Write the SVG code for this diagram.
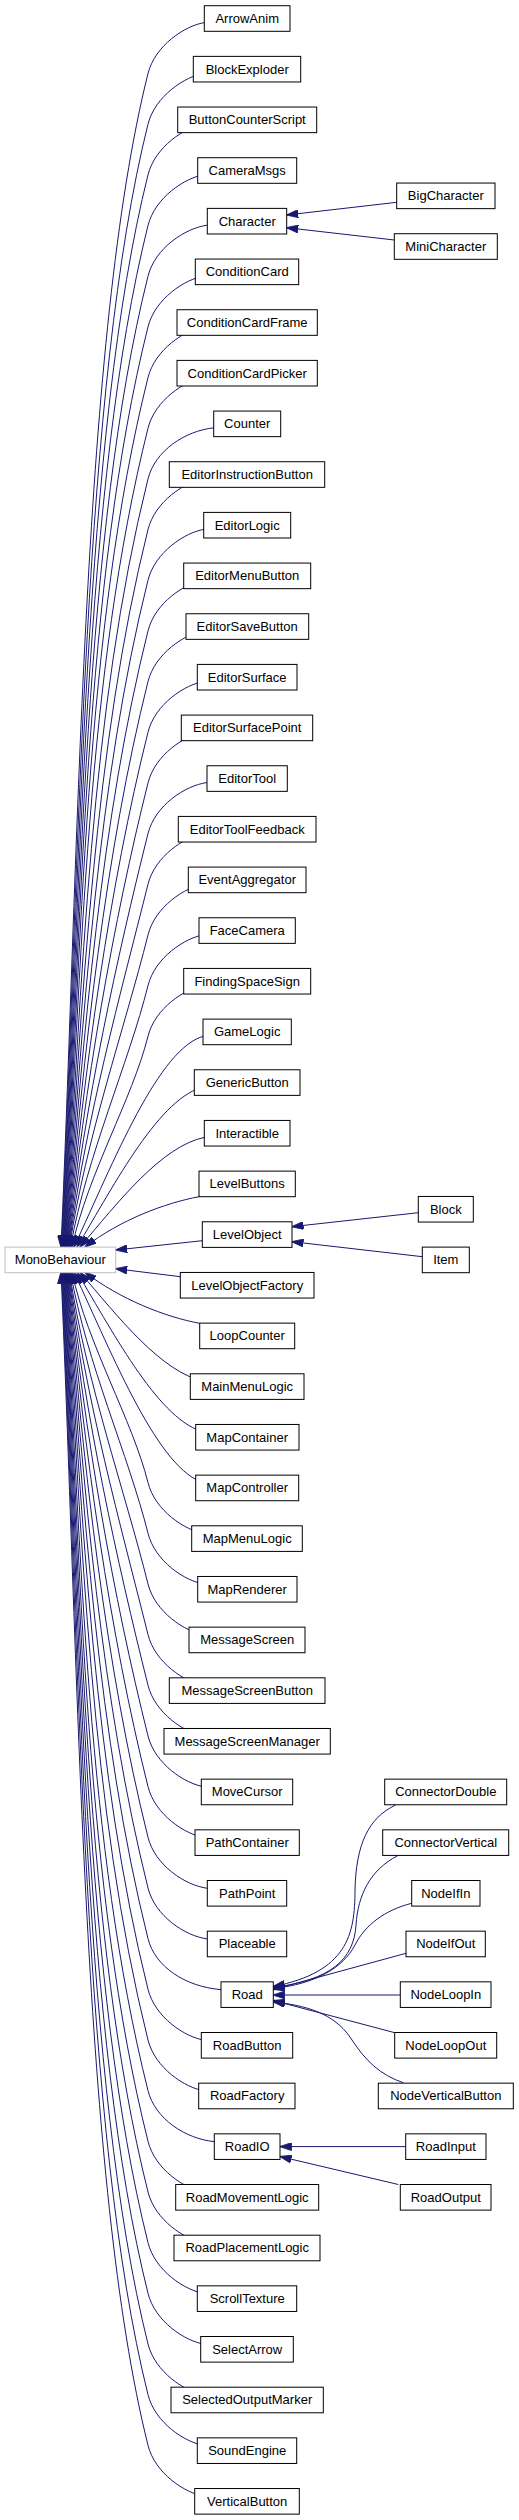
<svg xmlns="http://www.w3.org/2000/svg" width="519" height="2520" viewBox="0 0 519 2520">
<style>
.n rect{fill:#fff;stroke:#000;stroke-width:1}
.root rect{fill:#fff;stroke:#bfbfbf;stroke-width:1}
text{font-family:"Liberation Sans",Arial,sans-serif;font-size:13px;fill:#000;text-anchor:middle}
.e path{fill:none;stroke:#191970;stroke-width:1;marker-end:url(#ah)}
</style>
<defs>
<marker id="ah" viewBox="0 0 12 8" refX="11.5" refY="4" markerWidth="12" markerHeight="8" markerUnits="userSpaceOnUse" orient="auto">
<path d="M0,0 L12,4 L0,8 z" fill="#191970" stroke="#191970" stroke-width="0.8"/>
</marker>
</defs>
<rect width="519" height="2520" fill="#fff"/>
<g id="connectors" class="e">
<path d="M205,22.5 C185,25.5 155,45.5 148,73.5 C82.75,334.5 79.3,836.3 61,1247"/>
<path d="M205,73.17 C185,76.17 155,96.17 148,124.17 C83.1,383.7 79.7,854 61.5,1247"/>
<path d="M205,123.84 C185,126.84 155,146.84 148,174.84 C83.5,432.8 80.1,871.7 62,1247"/>
<path d="M205,174.51 C185,177.51 155,197.51 148,225.51 C83.9,482 80.5,889.5 62.5,1247"/>
<path d="M207.3,225.18 C185,228.18 155,248.18 148,276.18 C84.25,531.2 80.9,907.2 63,1247"/>
<path d="M205,275.85 C185,278.85 155,298.85 148,326.85 C84.6,580.35 81.2,925 63.5,1247"/>
<path d="M205,326.52 C185,329.52 155,349.52 148,377.52 C85,629.5 81.6,942.7 64,1247"/>
<path d="M205,377.19 C185,380.19 155,400.19 148,428.19 C86.6,673.8 82,960.4 64.5,1247"/>
<path d="M213.7,427.86 C185,430.86 155,450.86 148,478.86 C90.4,709.3 82.4,978.2 65,1247"/>
<path d="M205,478.53 C185,481.53 155,501.53 148,529.53 C94.2,744.7 82.8,995.9 65.5,1247"/>
<path d="M205,529.2 C185,532.2 155,552.2 148,580.2 C98,780.2 83.2,1013.6 66,1247"/>
<path d="M205,579.87 C185,582.87 155,602.87 148,630.87 C101.8,815.7 83.6,1031.4 66.5,1247"/>
<path d="M205,630.54 C185,633.54 155,653.54 148,681.54 C105.6,851.1 84,1049.1 67,1247"/>
<path d="M205,681.21 C185,684.21 155,704.21 148,732.21 C109.4,886.6 84.4,1066.8 67.5,1247"/>
<path d="M205,731.88 C185,734.88 155,754.88 148,782.88 C113.2,922.1 84.8,1084.6 68,1247"/>
<path d="M207,782.55 C185,785.55 155,805.55 148,833.55 C117,957.6 85.2,1102.3 68.5,1247"/>
<path d="M205,833.22 C185,836.22 155,856.22 148,884.22 C120.8,993 85.6,1120 69,1247"/>
<path d="M205,883.89 C185,886.89 155,906.89 148,934.89 C124.6,1028.5 86,1137.8 69.5,1247"/>
<path d="M205,934.56 C185,937.56 155,957.56 148,985.56 C128.4,1064 86.8,1155.5 70.5,1247"/>
<path d="M205,985.23 C185,988.23 155,1008.23 148,1036.23 C132.2,1099.4 88,1173.2 72,1247"/>
<path d="M205,1035.9 C159.2,1046 113.3,1162.6 74,1247"/>
<path d="M205,1086.57 C160.2,1096 115.4,1182.8 77,1247"/>
<path d="M205,1137.24 C161.25,1146 117.5,1203.1 80,1247"/>
<path d="M199,1196.7 C165,1203 120,1220 85,1247"/>
<path d="M202.3,1240.7 L115.7,1250"/>
<path d="M180.3,1276.7 L115.7,1268.7"/>
<path d="M199.7,1323.3 C165,1317 120,1299 85,1272.3"/>
<path d="M205,1381.59 C161.25,1372.85 117.5,1316 80,1272.3"/>
<path d="M205,1432.26 C160.2,1422 115.4,1336.3 77,1272.3"/>
<path d="M205,1482.93 C159.15,1472 113.3,1356.6 74,1272.3"/>
<path d="M205,1533.6 C185,1530.6 155,1510.6 148,1482.6 C132.2,1419.5 88,1345.9 72,1272.3"/>
<path d="M205,1584.27 C185,1581.27 155,1561.27 148,1533.27 C128.4,1455 86.8,1363.6 70.5,1272.3"/>
<path d="M205,1634.94 C185,1631.94 155,1611.94 148,1583.94 C124.6,1490.4 86,1381.4 69.5,1272.3"/>
<path d="M205,1685.61 C185,1682.61 155,1662.61 148,1634.61 C120.8,1525.9 85.6,1399.1 69,1272.3"/>
<path d="M205,1736.28 C185,1733.28 155,1713.28 148,1685.28 C117,1561.4 85.2,1416.8 68.5,1272.3"/>
<path d="M205,1786.95 C185,1783.95 155,1763.95 148,1735.95 C113.2,1596.85 84.8,1434.6 68,1272.3"/>
<path d="M205,1837.62 C185,1834.62 155,1814.62 148,1786.62 C109.4,1632.3 84.4,1452.3 67.5,1272.3"/>
<path d="M207.3,1888.29 C185,1885.29 155,1865.29 148,1837.29 C105.6,1667.8 84,1470 67,1272.3"/>
<path d="M207.3,1938.96 C185,1935.96 155,1915.96 148,1887.96 C101.8,1703.3 83.6,1487.8 66.5,1272.3"/>
<path d="M221,1989.63 C185,1986.63 155,1966.63 148,1938.63 C98,1738.7 83.2,1505.5 66,1272.3"/>
<path d="M205,2040.3 C185,2037.3 155,2017.3 148,1989.3 C94.2,1774.2 82.8,1523.3 65.5,1272.3"/>
<path d="M205,2090.97 C185,2087.97 155,2067.97 148,2039.97 C90.4,1809.7 82.4,1541 65,1272.3"/>
<path d="M214.3,2141.64 C185,2138.64 155,2118.64 148,2090.64 C86.6,1845.1 82,1558.7 64.5,1272.3"/>
<path d="M205,2192.31 C185,2189.31 155,2169.31 148,2141.31 C85,1889.3 81.6,1576.5 64,1272.3"/>
<path d="M205,2242.98 C185,2239.98 155,2219.98 148,2191.98 C84.6,1938.5 81.2,1594.2 63.5,1272.3"/>
<path d="M205,2293.65 C185,2290.65 155,2270.65 148,2242.65 C84.25,1987.65 80.9,1611.9 63,1272.3"/>
<path d="M205,2344.32 C185,2341.32 155,2321.32 148,2293.32 C83.9,2036.8 80.5,1629.65 62.5,1272.3"/>
<path d="M205,2394.99 C185,2391.99 155,2371.99 148,2343.99 C83.5,2086 80.1,1647.4 62,1272.3"/>
<path d="M205,2445.66 C185,2442.66 155,2422.66 148,2394.66 C83.1,2135.2 79.7,1665.1 61.5,1272.3"/>
<path d="M205,2496.33 C185,2493.33 155,2473.33 148,2445.33 C82.75,2184.3 79.3,1682.9 61,1272.3"/>
<path d="M396.7,202.3 L286.7,215"/>
<path d="M394.3,240 L286.7,227.7"/>
<path d="M418.3,1212.7 L292,1226.7"/>
<path d="M422.3,1256.7 L292,1241.7"/>
<path d="M395.7,1805 C368,1818 356,1845 355,1890 C355,1935 347,1972 273.3,1986.5"/>
<path d="M397.7,1855.7 C370,1870 358,1895 356,1925 C354,1960 330,1980 273.3,1987.5"/>
<path d="M411.7,1903.3 C385,1910 365,1925 355,1945 C343,1968 315,1984 273.3,1988.5"/>
<path d="M406,1953.3 L273.3,1989.5"/>
<path d="M400.3,1995 L273.3,1995"/>
<path d="M394.7,2032.7 L273.3,2000.5"/>
<path d="M403.3,2082.7 C380,2075 365,2060 352,2040 C338,2018 315,2006 273.3,2002"/>
<path d="M405.7,2146.6 L280,2146.6"/>
<path d="M398.3,2184.5 L280,2156.5"/>
</g>
<g id="MonoBehaviour" class="root"><rect x="5" y="1247.1" width="110.7" height="25.6"/><text x="60.35" y="1264.4">MonoBehaviour</text></g>
<g id="ArrowAnim" class="n"><rect x="204.3" y="5.7" width="85.7" height="25.6"/><text x="247.2" y="23">ArrowAnim</text></g>
<g id="BlockExploder" class="n"><rect x="193.3" y="56.37" width="107.4" height="25.6"/><text x="247.2" y="73.67">BlockExploder</text></g>
<g id="ButtonCounterScript" class="n"><rect x="177.7" y="107.04" width="139" height="25.6"/><text x="247.2" y="124.34">ButtonCounterScript</text></g>
<g id="CameraMsgs" class="n"><rect x="197.7" y="157.71" width="99" height="25.6"/><text x="247.2" y="175.01">CameraMsgs</text></g>
<g id="Character" class="n"><rect x="207.3" y="208.38" width="79.4" height="25.6"/><text x="247.2" y="225.68">Character</text></g>
<g id="ConditionCard" class="n"><rect x="195.3" y="259.05" width="103.4" height="25.6"/><text x="247.2" y="276.35">ConditionCard</text></g>
<g id="ConditionCardFrame" class="n"><rect x="177" y="309.72" width="140.3" height="25.6"/><text x="247.2" y="327.02">ConditionCardFrame</text></g>
<g id="ConditionCardPicker" class="n"><rect x="177" y="360.39" width="140.3" height="25.6"/><text x="247.2" y="377.69">ConditionCardPicker</text></g>
<g id="Counter" class="n"><rect x="213.7" y="411.06" width="67" height="25.6"/><text x="247.2" y="428.36">Counter</text></g>
<g id="EditorInstructionButton" class="n"><rect x="169.3" y="461.73" width="155.4" height="25.6"/><text x="247.2" y="479.03">EditorInstructionButton</text></g>
<g id="EditorLogic" class="n"><rect x="203.7" y="512.4" width="87" height="25.6"/><text x="247.2" y="529.7">EditorLogic</text></g>
<g id="EditorMenuButton" class="n"><rect x="183.7" y="563.07" width="127" height="25.6"/><text x="247.2" y="580.37">EditorMenuButton</text></g>
<g id="EditorSaveButton" class="n"><rect x="186" y="613.74" width="122.7" height="25.6"/><text x="247.2" y="631.04">EditorSaveButton</text></g>
<g id="EditorSurface" class="n"><rect x="197.3" y="664.41" width="99.7" height="25.6"/><text x="247.2" y="681.71">EditorSurface</text></g>
<g id="EditorSurfacePoint" class="n"><rect x="181.3" y="715.08" width="131.4" height="25.6"/><text x="247.2" y="732.38">EditorSurfacePoint</text></g>
<g id="EditorTool" class="n"><rect x="207" y="765.75" width="80.3" height="25.6"/><text x="247.2" y="783.05">EditorTool</text></g>
<g id="EditorToolFeedback" class="n"><rect x="178.3" y="816.42" width="137.7" height="25.6"/><text x="247.2" y="833.72">EditorToolFeedback</text></g>
<g id="EventAggregator" class="n"><rect x="188.3" y="867.09" width="117.7" height="25.6"/><text x="247.2" y="884.39">EventAggregator</text></g>
<g id="FaceCamera" class="n"><rect x="199" y="917.76" width="96.3" height="25.6"/><text x="247.2" y="935.06">FaceCamera</text></g>
<g id="FindingSpaceSign" class="n"><rect x="183.7" y="968.43" width="127" height="25.6"/><text x="247.2" y="985.73">FindingSpaceSign</text></g>
<g id="GameLogic" class="n"><rect x="203" y="1019.1" width="88.3" height="25.6"/><text x="247.2" y="1036.4">GameLogic</text></g>
<g id="GenericButton" class="n"><rect x="194.3" y="1069.77" width="105.7" height="25.6"/><text x="247.2" y="1087.07">GenericButton</text></g>
<g id="Interactible" class="n"><rect x="204.3" y="1120.44" width="85.7" height="25.6"/><text x="247.2" y="1137.74">Interactible</text></g>
<g id="LevelButtons" class="n"><rect x="199" y="1171.11" width="96.3" height="25.6"/><text x="247.2" y="1188.41">LevelButtons</text></g>
<g id="LevelObject" class="n"><rect x="202.3" y="1221.78" width="89.7" height="25.6"/><text x="247.2" y="1239.08">LevelObject</text></g>
<g id="LevelObjectFactory" class="n"><rect x="180.3" y="1272.45" width="133.7" height="25.6"/><text x="247.2" y="1289.75">LevelObjectFactory</text></g>
<g id="LoopCounter" class="n"><rect x="199.7" y="1323.12" width="95" height="25.6"/><text x="247.2" y="1340.42">LoopCounter</text></g>
<g id="MainMenuLogic" class="n"><rect x="190.3" y="1373.79" width="113.7" height="25.6"/><text x="247.2" y="1391.09">MainMenuLogic</text></g>
<g id="MapContainer" class="n"><rect x="195.7" y="1424.46" width="103.3" height="25.6"/><text x="247.2" y="1441.76">MapContainer</text></g>
<g id="MapController" class="n"><rect x="195.7" y="1475.13" width="103" height="25.6"/><text x="247.2" y="1492.43">MapController</text></g>
<g id="MapMenuLogic" class="n"><rect x="191.7" y="1525.8" width="110.6" height="25.6"/><text x="247.2" y="1543.1">MapMenuLogic</text></g>
<g id="MapRenderer" class="n"><rect x="197.7" y="1576.47" width="99.3" height="25.6"/><text x="247.2" y="1593.77">MapRenderer</text></g>
<g id="MessageScreen" class="n"><rect x="189" y="1627.14" width="116" height="25.6"/><text x="247.2" y="1644.44">MessageScreen</text></g>
<g id="MessageScreenButton" class="n"><rect x="169.3" y="1677.81" width="155.7" height="25.6"/><text x="247.2" y="1695.11">MessageScreenButton</text></g>
<g id="MessageScreenManager" class="n"><rect x="164" y="1728.48" width="166.3" height="25.6"/><text x="247.2" y="1745.78">MessageScreenManager</text></g>
<g id="MoveCursor" class="n"><rect x="201.3" y="1779.15" width="91.4" height="25.6"/><text x="247.2" y="1796.45">MoveCursor</text></g>
<g id="PathContainer" class="n"><rect x="195" y="1829.82" width="104.3" height="25.6"/><text x="247.2" y="1847.12">PathContainer</text></g>
<g id="PathPoint" class="n"><rect x="207.3" y="1880.49" width="79.4" height="25.6"/><text x="247.2" y="1897.79">PathPoint</text></g>
<g id="Placeable" class="n"><rect x="207.3" y="1931.16" width="79.4" height="25.6"/><text x="247.2" y="1948.46">Placeable</text></g>
<g id="Road" class="n"><rect x="221" y="1981.83" width="52.3" height="25.6"/><text x="247.2" y="1999.13">Road</text></g>
<g id="RoadButton" class="n"><rect x="201.3" y="2032.5" width="91.4" height="25.6"/><text x="247.2" y="2049.8">RoadButton</text></g>
<g id="RoadFactory" class="n"><rect x="198.7" y="2083.17" width="96.3" height="25.6"/><text x="247.2" y="2100.47">RoadFactory</text></g>
<g id="RoadIO" class="n"><rect x="214.3" y="2133.84" width="65.7" height="25.6"/><text x="247.2" y="2151.14">RoadIO</text></g>
<g id="RoadMovementLogic" class="n"><rect x="175.7" y="2184.51" width="143" height="25.6"/><text x="247.2" y="2201.81">RoadMovementLogic</text></g>
<g id="RoadPlacementLogic" class="n"><rect x="174" y="2235.18" width="146" height="25.6"/><text x="247.2" y="2252.48">RoadPlacementLogic</text></g>
<g id="ScrollTexture" class="n"><rect x="197.3" y="2285.85" width="99.4" height="25.6"/><text x="247.2" y="2303.15">ScrollTexture</text></g>
<g id="SelectArrow" class="n"><rect x="200.7" y="2336.52" width="92.6" height="25.6"/><text x="247.2" y="2353.82">SelectArrow</text></g>
<g id="SelectedOutputMarker" class="n"><rect x="171" y="2387.19" width="152.3" height="25.6"/><text x="247.2" y="2404.49">SelectedOutputMarker</text></g>
<g id="SoundEngine" class="n"><rect x="197.3" y="2437.86" width="99.4" height="25.6"/><text x="247.2" y="2455.16">SoundEngine</text></g>
<g id="VerticalButton" class="n"><rect x="194.7" y="2488.53" width="104.6" height="25.6"/><text x="247.2" y="2505.83">VerticalButton</text></g>
<g id="BigCharacter" class="n"><rect x="396.7" y="183.05" width="98.3" height="25.6"/><text x="445.8" y="200.35">BigCharacter</text></g>
<g id="MiniCharacter" class="n"><rect x="394.3" y="233.72" width="103" height="25.6"/><text x="445.8" y="251.02">MiniCharacter</text></g>
<g id="Block" class="n"><rect x="418.3" y="1196.45" width="55" height="25.6"/><text x="445.8" y="1213.75">Block</text></g>
<g id="Item" class="n"><rect x="422.3" y="1247.1" width="47" height="25.6"/><text x="445.8" y="1264.4">Item</text></g>
<g id="ConnectorDouble" class="n"><rect x="384.7" y="1779.15" width="122" height="25.6"/><text x="445.8" y="1796.45">ConnectorDouble</text></g>
<g id="ConnectorVertical" class="n"><rect x="382.7" y="1829.82" width="126" height="25.6"/><text x="445.8" y="1847.12">ConnectorVertical</text></g>
<g id="NodeIfIn" class="n"><rect x="411.7" y="1880.49" width="68.3" height="25.6"/><text x="445.8" y="1897.79">NodeIfIn</text></g>
<g id="NodeIfOut" class="n"><rect x="406" y="1931.16" width="79.3" height="25.6"/><text x="445.8" y="1948.46">NodeIfOut</text></g>
<g id="NodeLoopIn" class="n"><rect x="400.3" y="1981.83" width="90.7" height="25.6"/><text x="445.8" y="1999.13">NodeLoopIn</text></g>
<g id="NodeLoopOut" class="n"><rect x="394.7" y="2032.5" width="102" height="25.6"/><text x="445.8" y="2049.8">NodeLoopOut</text></g>
<g id="NodeVerticalButton" class="n"><rect x="378.3" y="2083.17" width="135" height="25.6"/><text x="445.8" y="2100.47">NodeVerticalButton</text></g>
<g id="RoadInput" class="n"><rect x="405.7" y="2133.84" width="80.3" height="25.6"/><text x="445.8" y="2151.14">RoadInput</text></g>
<g id="RoadOutput" class="n"><rect x="400.3" y="2184.51" width="90.7" height="25.6"/><text x="445.8" y="2201.81">RoadOutput</text></g>
</svg>
